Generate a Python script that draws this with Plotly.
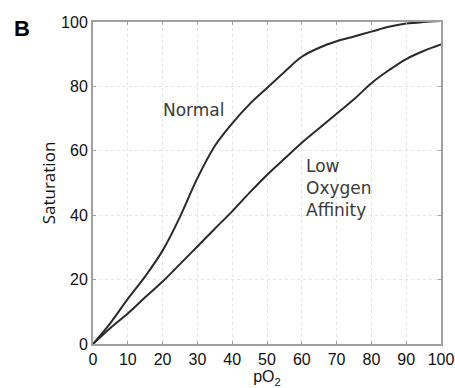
import plotly.graph_objects as go

po2 = [0, 5, 10, 15, 20, 25, 30, 35, 40, 45, 50, 55, 60, 65, 70, 75, 80, 85, 90, 95, 100]
normal = [0, 6.5, 14, 21, 29, 39.5, 51.5, 61.5, 68.5, 74.5, 79.5, 84.5, 89.2, 92, 94, 95.5, 97, 98.5, 99.5, 100, 100.3]
low_affinity = [0, 5, 9.5, 14.5, 19.4, 24.8, 30.3, 35.8, 41.2, 47, 52.5, 57.5, 62.5, 67, 71.5, 76, 81, 85, 88.5, 91, 93]
ticks_x = [0, 10, 20, 30, 40, 50, 60, 70, 80, 90, 100]
ticks_y = [0, 20, 40, 60, 80, 100]

label_font = dict(family="DejaVu Sans, Verdana", size=17, color="#3a3a3a")
tick_font = dict(family="Liberation Sans, Arial", size=16, color="#111")

fig = go.Figure()
for ys in (normal, low_affinity):
    fig.add_trace(go.Scatter(x=po2, y=ys, mode="lines",
                             line=dict(color="#2a2a2a", width=2, shape="spline", smoothing=1.0),
                             showlegend=False, hoverinfo="skip"))

fig.add_annotation(x=29.1, y=72.8, text="Normal", showarrow=False, font=label_font)
fig.add_annotation(x=60.7, y=48.5, text="Low<br>Oxygen<br>Affinity", showarrow=False,
                   xanchor="left", align="left", font=label_font)
fig.add_annotation(xref="paper", yref="paper", x=-0.2026, y=0.98, text="<b>B</b>", showarrow=False,
                   xanchor="center", yanchor="middle",
                   font=dict(family="Liberation Sans, Arial", size=22, color="black"))

axis_common = dict(showline=True, linecolor="#a0a0a0", linewidth=2, mirror="ticks", ticks="inside", ticklen=3,
                   tickcolor="#a0a0a0", showgrid=True, gridcolor="#e4e4e4", griddash="dot", gridwidth=1,
                   zeroline=False, automargin=False, tickfont=tick_font)

fig.update_xaxes(range=[0, 100], tickvals=ticks_x, title=dict(text="pO<sub>2</sub>", standoff=4,
                 font=dict(family="Liberation Sans, Arial", size=16, color="#111")), **axis_common)
fig.update_yaxes(range=[0, 100], tickvals=ticks_y, title=dict(text="Saturation", standoff=1,
                 font=dict(family="Open Sans, Noto Sans", size=17, color="#111")), **axis_common)

fig.update_layout(width=455, height=388, margin=dict(l=93, r=14, t=22, b=44),
                  plot_bgcolor="white", paper_bgcolor="white", hovermode=False)

fig.write_html("out.html", config={"displayModeBar": False},
               post_script="document.body.style.margin='0';document.body.style.overflow='hidden';")
